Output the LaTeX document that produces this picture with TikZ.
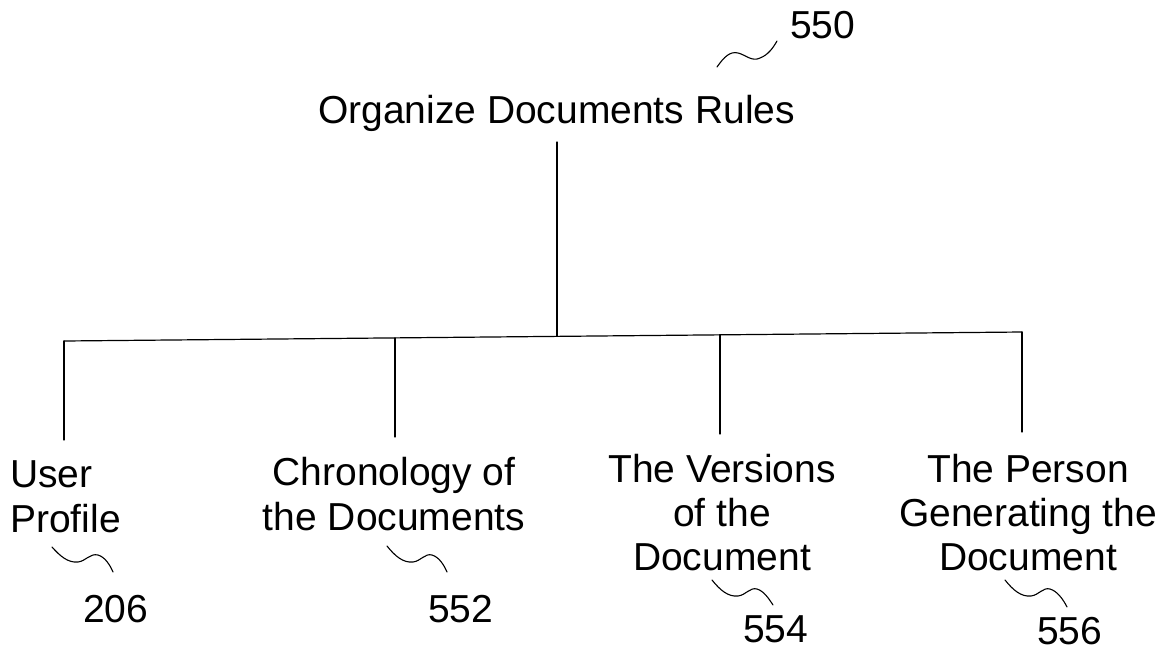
\documentclass[tikz,border=0pt]{standalone}
\usepackage{fontspec}
\setmainfont{Liberation Sans}
\begin{document}
\begin{tikzpicture}[x=1pt,y=-1pt,
  lbl/.style={inner sep=0pt,font=\fontsize{39}{45}\selectfont},
  lbltall/.style={inner sep=0pt,font=\fontsize{39}{44}\selectfont},
  wire/.style={line width=1.2pt,line cap=round},
  squig/.style={line width=1.1pt,line cap=round}]
\useasboundingbox (0,0) rectangle (1158,651);
% title and reference
\node[lbl,anchor=base] (root) at (556.5,123) {Organize Documents Rules};
\node[lbl,anchor=base west] (n550) at (790,38) {550};
\draw[squig] (717,67) .. controls (724,57) and (730,51) .. (738,53)
  .. controls (746,55) and (752,62) .. (760,58) .. controls (768,55) and (773,48) .. (777,41);
% children (base anchor = last line)
\node[lbl,anchor=base west,align=left] (c1) at (10,532) {User\\Profile};
\node[lbl,anchor=base,align=center] (c2) at (394,530) {Chronology of\\the Documents};
\node[lbltall,anchor=base,align=center] (c3) at (722,570) {The Versions\\of the\\Document};
\node[lbltall,anchor=base,align=center] (c4) at (1028,570) {The Person\\Generating the\\Document};
% bus
\coordinate (top) at (557,142);
\coordinate (j) at (557,336.4);
\coordinate (b1) at (64,341);
\coordinate (b2) at (395,337.9);
\coordinate (b3) at (720,334.8);
\coordinate (b4) at (1022,332);
\coordinate (e1) at (64,440);
\coordinate (e2) at (395,437);
\coordinate (e3) at (720,434);
\coordinate (e4) at (1022,432);
\draw[wire] (top) -- (j);
\draw[wire] (b1) -- (b4);
\draw[wire] (b1) -- (e1);
\draw[wire] (b2) -- (e2);
\draw[wire] (b3) -- (e3);
\draw[wire] (b4) -- (e4);
% reference numbers
\node[lbl,anchor=base west] (n206) at (83,622) {206};
\node[lbl,anchor=base west] (n552) at (428,622) {552};
\node[lbl,anchor=base west] (n554) at (743,642) {554};
\node[lbl,anchor=base west] (n556) at (1037,644) {556};
\draw[squig] (52,547) .. controls (60,556) and (68,563) .. (78,562)
  .. controls (86,561) and (90,553) .. (98,555) .. controls (105,557) and (110,565) .. (113,572);
\draw[squig] (387,546) .. controls (395,556) and (403,563) .. (413,562)
  .. controls (421,561) and (425,553) .. (432,555) .. controls (439,557) and (444,565) .. (447,572);
\draw[squig] (712,580) .. controls (720,590) and (728,597) .. (738,596)
  .. controls (746,595) and (750,587) .. (757,589) .. controls (764,591) and (769,599) .. (773,605);
\draw[squig] (1005,580) .. controls (1013,590) and (1021,597) .. (1031,596)
  .. controls (1039,595) and (1043,587) .. (1050,589) .. controls (1057,591) and (1063,599) .. (1067,607);
\end{tikzpicture}
\end{document}
